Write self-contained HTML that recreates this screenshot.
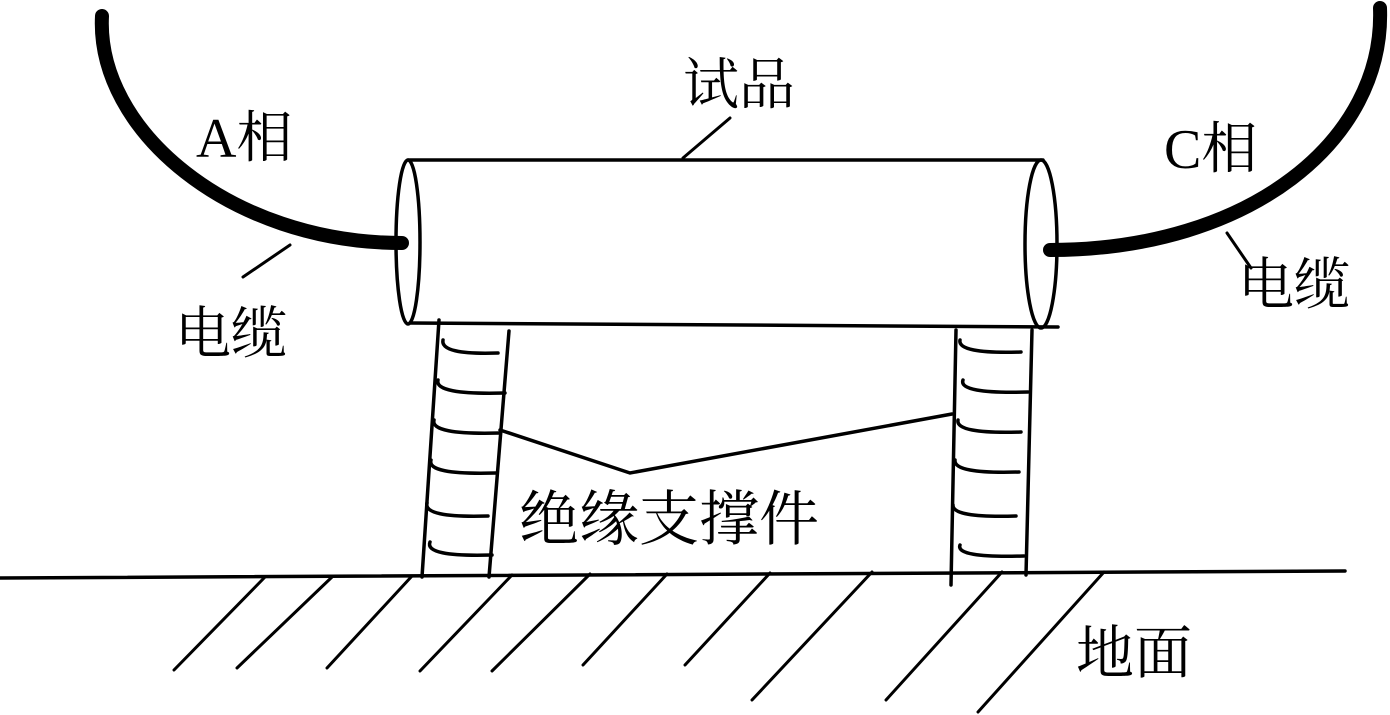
<!DOCTYPE html>
<html><head><meta charset="utf-8"><style>
html,body{margin:0;padding:0;background:#fff;}
svg{display:block;}
text{font-family:"Liberation Serif","Noto Serif CJK SC","Noto Sans CJK SC",serif;fill:#000;}
</style></head><body>
<svg width="1390" height="715" viewBox="0 0 1390 715" xmlns="http://www.w3.org/2000/svg">
<g fill="none" stroke="#000" stroke-linecap="round">
<path d="M102,16 C96,130 230,243 402,243" stroke-width="14"/>
<path d="M1380,8 C1385,140 1250,250 1050,250" stroke-width="14"/>
<g stroke-width="3.5">
<line x1="408" y1="160" x2="1043" y2="160"/>
<line x1="410" y1="323" x2="1058" y2="327"/>
<ellipse cx="408" cy="242" rx="12" ry="82"/>
<ellipse cx="1041" cy="244" rx="16" ry="84"/>
<line x1="439" y1="320" x2="422" y2="577"/>
<line x1="509" y1="331" x2="489" y2="577"/>
<line x1="956" y1="330" x2="951" y2="585"/>
<line x1="1032" y1="330" x2="1026" y2="575"/>
<path d="M443,340 Q440,355 498,353"/>
<path d="M438,380 Q434,395 505,393"/>
<path d="M434,420 Q430,435 500,433"/>
<path d="M431,460 Q426,475 496,473"/>
<path d="M427,503 Q423,518 488,516"/>
<path d="M430,542 Q424,557 492,555"/>
<path d="M960,340 Q957,354 1021,352"/>
<path d="M963,380 Q958,394 1028,392"/>
<path d="M958,420 Q955,434 1021,432"/>
<path d="M955,460 Q953,474 1019,472"/>
<path d="M953,505 Q952,518 1016,516"/>
<path d="M960,545 Q955,558 1024,556"/>
<polyline points="500,430 630,473 952,414"/>
<line x1="0" y1="578" x2="1345" y2="571"/>
</g>
<g stroke-width="3">
<line x1="265" y1="577" x2="174" y2="670"/>
<line x1="332" y1="577" x2="237" y2="668"/>
<line x1="412" y1="576" x2="327" y2="668"/>
<line x1="512" y1="575" x2="420" y2="671"/>
<line x1="590" y1="574" x2="492" y2="671"/>
<line x1="667" y1="574" x2="583" y2="665"/>
<line x1="770" y1="573" x2="685" y2="665"/>
<line x1="872" y1="572" x2="752" y2="700"/>
<line x1="1002" y1="572" x2="886" y2="700"/>
<line x1="1104" y1="572" x2="978" y2="712"/>
<line x1="683" y1="158" x2="730" y2="118"/>
<line x1="243" y1="277" x2="290" y2="245"/>
<line x1="1227" y1="233" x2="1251" y2="268"/>
</g>
</g>
<text x="683" y="104" font-size="56">试品</text>
<text x="196" y="157" font-size="56">A相</text>
<text x="1164" y="168" font-size="56">C相</text>
<text x="175" y="353" font-size="56">电缆</text>
<text x="1238" y="304" font-size="56">电缆</text>
<text x="519" y="540" font-size="60">绝缘支撑件</text>
<text x="1076" y="673" font-size="58">地面</text>
</svg>
</body></html>
